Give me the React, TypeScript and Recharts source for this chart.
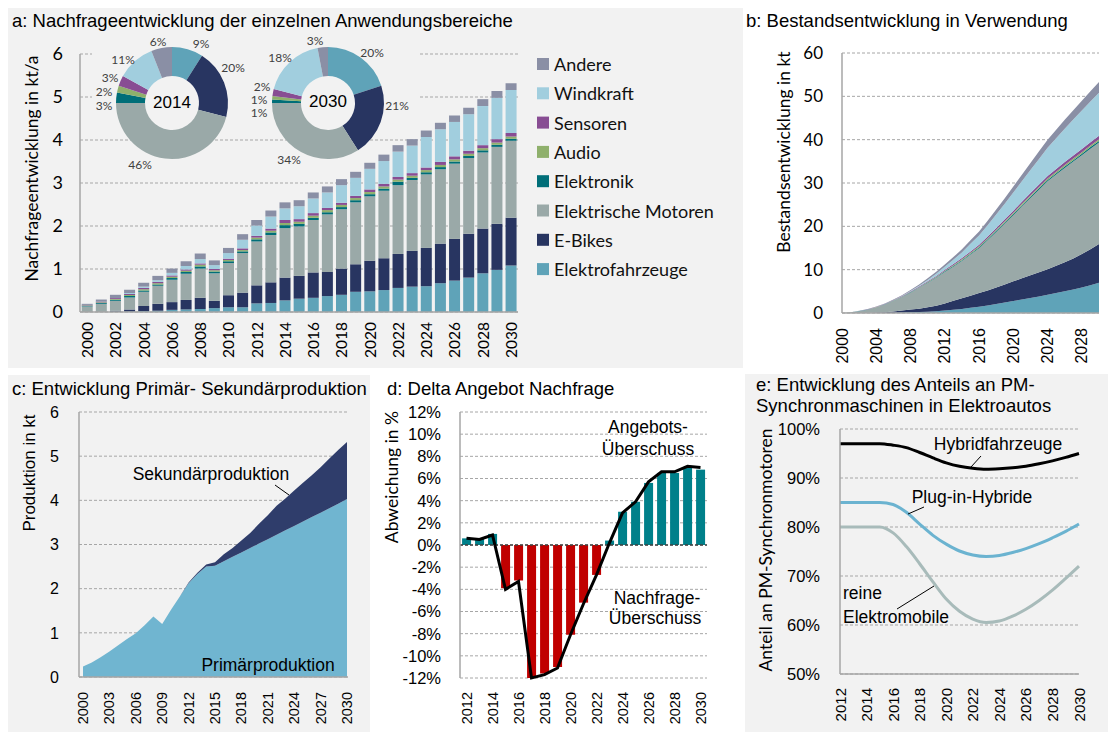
import React from 'react';
import {
  BarChart, Bar, XAxis, YAxis, CartesianGrid, PieChart, Pie, Cell,
  AreaChart, Area, ComposedChart, Line, LineChart, ReferenceLine,
} from 'recharts';

const ARIAL = '"Liberation Sans", Arial, sans-serif';
const CALI = 'Lato, "Open Sans", sans-serif';
const PANEL_BG = '#f2f2f2';
const AXIS = '#a6a6a6';

// ---- a: Nachfrageentwicklung (kt/a), stacked per year
const years = [
  '2000', '2001', '2002', '2003', '2004', '2005', '2006', '2007', '2008', '2009', '2010',
  '2011', '2012', '2013', '2014', '2015', '2016', '2017', '2018', '2019', '2020',
  '2021', '2022', '2023', '2024', '2025', '2026', '2027', '2028', '2029', '2030',
];
const fahrzeuge = [0, 0, 0.01, 0.01, 0.02, 0.03, 0.05, 0.06, 0.07, 0.09, 0.11, 0.11, 0.2, 0.21, 0.27, 0.31, 0.33, 0.37, 0.4, 0.47, 0.48, 0.51, 0.56, 0.59, 0.6, 0.67, 0.73, 0.8, 0.9, 0.98, 1.08];
const bikes = [0, 0, 0.02, 0.05, 0.12, 0.16, 0.18, 0.22, 0.26, 0.17, 0.28, 0.34, 0.42, 0.48, 0.53, 0.53, 0.59, 0.56, 0.61, 0.64, 0.71, 0.74, 0.79, 0.83, 0.89, 0.92, 0.97, 1.02, 1.04, 1.07, 1.11];
const motoren = [0.13, 0.19, 0.23, 0.28, 0.33, 0.42, 0.52, 0.61, 0.68, 0.64, 0.75, 0.92, 1.02, 1.1, 1.15, 1.15, 1.22, 1.34, 1.38, 1.44, 1.5, 1.57, 1.6, 1.65, 1.71, 1.73, 1.75, 1.76, 1.77, 1.79, 1.79];
const elektronik = [0.015, 0.02, 0.025, 0.03, 0.03, 0.03, 0.04, 0.04, 0.05, 0.04, 0.04, 0.04, 0.05, 0.06, 0.07, 0.06, 0.05, 0.05, 0.05, 0.05, 0.05, 0.05, 0.08, 0.05, 0.05, 0.05, 0.05, 0.05, 0.05, 0.05, 0.05];
const audio = [0.01, 0.015, 0.02, 0.025, 0.03, 0.03, 0.03, 0.03, 0.04, 0.03, 0.03, 0.03, 0.04, 0.04, 0.05, 0.05, 0.05, 0.05, 0.05, 0.05, 0.05, 0.05, 0.05, 0.05, 0.05, 0.05, 0.05, 0.05, 0.05, 0.05, 0.05];
const sensoren = [0.01, 0.015, 0.02, 0.025, 0.03, 0.03, 0.03, 0.03, 0.03, 0.03, 0.03, 0.04, 0.04, 0.05, 0.07, 0.06, 0.06, 0.05, 0.05, 0.05, 0.06, 0.06, 0.06, 0.06, 0.06, 0.07, 0.07, 0.07, 0.07, 0.08, 0.08];
const wind = [0, 0, 0, 0.02, 0.03, 0.04, 0.06, 0.08, 0.1, 0.09, 0.13, 0.2, 0.24, 0.28, 0.27, 0.3, 0.34, 0.36, 0.41, 0.42, 0.48, 0.53, 0.59, 0.64, 0.71, 0.76, 0.8, 0.85, 0.91, 0.96, 1.0];
const andere = [0.025, 0.05, 0.075, 0.08, 0.09, 0.1, 0.1, 0.11, 0.13, 0.11, 0.12, 0.13, 0.13, 0.14, 0.14, 0.14, 0.14, 0.14, 0.14, 0.14, 0.14, 0.15, 0.15, 0.15, 0.15, 0.15, 0.15, 0.15, 0.16, 0.16, 0.16];

// donut shares in %
const share2014 = [9, 20, 46, 3, 2, 3, 11, 6];
const share2030 = [20, 21, 34, 1, 1, 2, 18, 3];
const labelOffset2014 = [[29, -60], [61, -36], [-32, 61], [-68, 2], [-68, -12], [-62, -26], [-49, -44], [-14, -62]];
const labelOffset2030 = [[44, -51], [69, 2], [-39, 56], [-69, 9], [-69, -4], [-66, -17], [-48, -46], [-13, -63]];

// ---- b: Bestand in kt
const stockFahrzeuge = [0, 0, 0, 0, 0.02, 0.05, 0.08, 0.12, 0.17, 0.23, 0.3, 0.4, 0.55, 0.75, 0.95, 1.2, 1.45, 1.75, 2.05, 2.4, 2.75, 3.1, 3.45, 3.8, 4.2, 4.6, 5.0, 5.45, 5.9, 6.4, 7.0];
const stockBikes = [0, 0, 0, 0.02, 0.08, 0.15, 0.27, 0.43, 0.63, 0.77, 1.0, 1.3, 1.65, 2.05, 2.45, 2.8, 3.15, 3.45, 3.85, 4.2, 4.55, 4.9, 5.25, 5.6, 5.9, 6.3, 6.7, 7.15, 7.7, 8.3, 8.9];
const stockMotoren = [0, 0.17, 0.42, 0.75, 1.21, 1.75, 2.4, 3.08, 3.89, 4.8, 5.64, 6.42, 7.27, 7.89, 8.61, 9.48, 10.37, 11.59, 12.82, 14.04, 15.26, 16.61, 17.84, 19.07, 20.3, 21.05, 21.79, 22.34, 22.79, 23.23, 23.45];
const stockElektronik = [0, 0.01, 0.02, 0.03, 0.04, 0.05, 0.06, 0.07, 0.08, 0.09, 0.11, 0.13, 0.15, 0.17, 0.19, 0.21, 0.22, 0.23, 0.24, 0.25, 0.26, 0.27, 0.28, 0.29, 0.3, 0.31, 0.32, 0.33, 0.34, 0.35, 0.35];
const stockAudio = [0, 0, 0.01, 0.02, 0.03, 0.04, 0.05, 0.06, 0.07, 0.08, 0.1, 0.12, 0.14, 0.16, 0.18, 0.2, 0.22, 0.24, 0.26, 0.28, 0.3, 0.31, 0.32, 0.33, 0.34, 0.35, 0.36, 0.37, 0.38, 0.39, 0.4];
const stockSensoren = [0, 0.01, 0.02, 0.03, 0.04, 0.05, 0.07, 0.09, 0.11, 0.13, 0.16, 0.19, 0.22, 0.26, 0.3, 0.33, 0.36, 0.39, 0.42, 0.45, 0.48, 0.51, 0.54, 0.57, 0.6, 0.63, 0.66, 0.69, 0.72, 0.75, 0.8];
const stockWind = [0, 0, 0, 0, 0, 0, 0.02, 0.05, 0.1, 0.2, 0.32, 0.5, 0.7, 1.0, 1.3, 1.75, 2.1, 2.6, 3.1, 3.6, 4.2, 4.7, 5.3, 5.9, 6.5, 7.1, 7.7, 8.3, 8.9, 9.4, 9.9];
const stockAndere = [0, 0.01, 0.03, 0.05, 0.08, 0.11, 0.15, 0.2, 0.25, 0.3, 0.37, 0.44, 0.52, 0.62, 0.72, 0.83, 0.93, 1.05, 1.16, 1.28, 1.4, 1.5, 1.62, 1.74, 1.86, 1.96, 2.07, 2.17, 2.27, 2.38, 2.5];

// ---- c: Primär- / Sekundärproduktion in kt
const primaer = [0.24, 0.33, 0.45, 0.58, 0.72, 0.86, 0.99, 1.17, 1.37, 1.2, 1.52, 1.82, 2.12, 2.33, 2.5, 2.52, 2.62, 2.72, 2.82, 2.92, 3.02, 3.12, 3.22, 3.32, 3.42, 3.52, 3.62, 3.72, 3.82, 3.92, 4.03];
const sekundaer = [0, 0, 0, 0, 0, 0, 0, 0, 0, 0, 0, 0, 0.02, 0.03, 0.05, 0.08, 0.16, 0.2, 0.27, 0.34, 0.45, 0.54, 0.66, 0.72, 0.8, 0.88, 0.95, 1.03, 1.13, 1.22, 1.29];

// ---- d: Delta Angebot / Nachfrage in %
const dYears = ['2012', '2013', '2014', '2015', '2016', '2017', '2018', '2019', '2020', '2021', '2022', '2023', '2024', '2025', '2026', '2027', '2028', '2029', '2030'];
const deltaBars = [0.6, 0.6, 1.0, -3.9, -3.2, -12.0, -11.6, -11.0, -8.1, -5.2, -2.7, 0.4, 3.0, 3.9, 5.6, 6.5, 6.5, 7.0, 6.8];
const deltaLine = [0.6, 0.5, 0.9, -4.0, -3.3, -12.0, -11.7, -11.1, -8.1, -5.3, -2.7, 0.2, 2.9, 3.9, 5.7, 6.6, 6.6, 7.1, 7.0];

// ---- e: Anteil PM-Synchronmotoren in %
const hybrid = [97, 97, 97, 97, 96.7, 96.2, 95.2, 94.1, 93.1, 92.4, 92.0, 91.8, 91.9, 92.1, 92.4, 92.9, 93.5, 94.2, 95.0];
const plugIn = [85, 85, 85, 85, 84.6, 83.0, 80.6, 78.3, 76.5, 75.1, 74.3, 74.0, 74.2, 74.8, 75.6, 76.6, 77.8, 79.1, 80.6];
const reine = [80, 80, 80, 80, 78.8, 76.0, 72.5, 68.8, 65.3, 62.8, 61.2, 60.5, 60.8, 61.8, 63.2, 65.0, 67.1, 69.5, 72.0];

const SERIES = [
  { key: 'fahrzeuge', name: 'Elektrofahrzeuge', color: '#5fa3b8' },
  { key: 'bikes', name: 'E-Bikes', color: '#283561' },
  { key: 'motoren', name: 'Elektrische Motoren', color: '#9aa9a8' },
  { key: 'elektronik', name: 'Elektronik', color: '#006e78' },
  { key: 'audio', name: 'Audio', color: '#8fb06c' },
  { key: 'sensoren', name: 'Sensoren', color: '#884d93' },
  { key: 'wind', name: 'Windkraft', color: '#a1cede' },
  { key: 'andere', name: 'Andere', color: '#8a8fa5' },
];

const demandRows = years.map((year, i) => ({
  year, fahrzeuge: fahrzeuge[i], bikes: bikes[i], motoren: motoren[i], elektronik: elektronik[i],
  audio: audio[i], sensoren: sensoren[i], wind: wind[i], andere: andere[i],
}));
const stockRows = years.map((year, i) => ({
  year, fahrzeuge: stockFahrzeuge[i], bikes: stockBikes[i], motoren: stockMotoren[i], elektronik: stockElektronik[i],
  audio: stockAudio[i], sensoren: stockSensoren[i], wind: stockWind[i], andere: stockAndere[i],
}));
const prodRows = years.map((year, i) => ({ year, primaer: primaer[i], sekundaer: sekundaer[i] }));
const deltaRows = dYears.map((year, i) => ({ year, bar: deltaBars[i], line: deltaLine[i] }));
const shareRows = dYears.map((year, i) => ({ year, hybrid: hybrid[i], plugIn: plugIn[i], reine: reine[i] }));

function VTick(props: any) {
  const { x, y, payload, fs, ff } = props;
  return (
    <text x={x} y={y} transform={`rotate(-90 ${x} ${y})`} textAnchor="end" dominantBaseline="central"
      fontSize={fs} fontFamily={ff} fill="#000">
      {payload.value}
    </text>
  );
}

function Box({ left, top, children }: { left: number; top: number; children: React.ReactNode }) {
  return <div style={{ position: 'absolute', left, top }}>{children}</div>;
}

function Donut({ shares, offsets }: { shares: number[]; offsets: number[][] }) {
  const rows = SERIES.map((s, i) => ({ name: s.name, value: shares[i] }));
  return (
    <PieChart width={200} height={200} margin={{ top: 0, right: 0, bottom: 0, left: 0 }}>
      <Pie data={rows} dataKey="value" cx={100} cy={100} innerRadius={27} outerRadius={56}
        startAngle={90} endAngle={-270} stroke="none" isAnimationActive={false} labelLine={false}
        label={(p: any) => (
          <text x={p.cx + offsets[p.index][0]} y={p.cy + offsets[p.index][1]} textAnchor="middle"
            dominantBaseline="central" fontSize={12} fontFamily={CALI} fill="#404040">
            {`${p.value}%`}
          </text>
        )}>
        {rows.map((r, i) => <Cell key={r.name} fill={SERIES[i].color} />)}
      </Pie>
    </PieChart>
  );
}

export default function App() {
  const legendRows = [...SERIES].reverse();
  return (
    <div style={{ position: 'absolute', left: 0, top: 0, width: 1110, height: 732, background: '#fff', overflow: 'hidden' }}>
      <div style={{ position: 'absolute', left: 8, top: 8, width: 735, height: 360, background: PANEL_BG }} />
      <div style={{ position: 'absolute', left: 8, top: 375, width: 362, height: 357, background: PANEL_BG }} />
      <div style={{ position: 'absolute', left: 745, top: 374, width: 363, height: 358, background: PANEL_BG }} />

      {/* a */}
      <Box left={0} top={0}>
        <BarChart width={530} height={370} data={demandRows} margin={{ top: 54, right: 12, left: 0, bottom: 0 }} barCategoryGap="12%">
          <CartesianGrid vertical={false} stroke={AXIS} strokeDasharray="3 2" />
          <XAxis dataKey="year" interval={1} height={58} axisLine={{ stroke: AXIS, strokeWidth: 1.5 }} tickLine={false}
            tickMargin={4} tick={(p: any) => <VTick {...p} fs={15.5} ff={CALI} />} />
          <YAxis width={80} domain={[0, 6]} ticks={[0, 1, 2, 3, 4, 5, 6]} interval={0} axisLine={{ stroke: AXIS, strokeWidth: 1.5 }}
            tickLine={false} tickMargin={11} tick={{ fontSize: 18, fontFamily: CALI, fill: '#000' }} />
          {SERIES.map((s) => (
            <Bar key={s.key} dataKey={s.key} stackId="a" fill={s.color} isAnimationActive={false} />
          ))}
        </BarChart>
      </Box>
      <div style={{ position: 'absolute', left: 92, top: 30, width: 326, height: 95, background: PANEL_BG }} />
      <Box left={72} top={2.5}><Donut shares={share2014} offsets={labelOffset2014} /></Box>
      <Box left={228} top={2.5}><Donut shares={share2030} offsets={labelOffset2030} /></Box>

      {/* b */}
      <Box left={760} top={0}>
        <AreaChart width={350} height={370} data={stockRows} margin={{ top: 53, right: 11, left: 0, bottom: 0 }}>
          <CartesianGrid vertical={false} stroke={AXIS} strokeDasharray="3 2" />
          <XAxis dataKey="year" interval={3} height={57} axisLine={{ stroke: AXIS, strokeWidth: 1.5 }} tickLine={false}
            tickMargin={9} tick={(p: any) => <VTick {...p} fs={16} ff={ARIAL} />} />
          <YAxis width={82} domain={[0, 60]} ticks={[0, 10, 20, 30, 40, 50, 60]} interval={0} axisLine={{ stroke: AXIS, strokeWidth: 1.5 }}
            tickLine={false} tickMargin={13} tick={{ fontSize: 17, fontFamily: CALI, fill: '#000' }} />
          {SERIES.map((s) => (
            <Area key={s.key} type="linear" dataKey={s.key} stackId="b" stroke="none" fill={s.color} fillOpacity={1} isAnimationActive={false} />
          ))}
        </AreaChart>
      </Box>

      {/* c */}
      <Box left={0} top={370}>
        <AreaChart width={370} height={362} data={prodRows} margin={{ top: 42, right: 22, left: 0, bottom: 0 }}>
          <CartesianGrid vertical={false} stroke={AXIS} strokeDasharray="3 2" />
          <XAxis dataKey="year" interval={2} height={55} padding={{ left: 4, right: 1 }} axisLine={{ stroke: AXIS, strokeWidth: 1.5 }}
            tickLine={false} tickMargin={9} tick={(p: any) => <VTick {...p} fs={14.5} ff={ARIAL} />} />
          <YAxis width={79} domain={[0, 6]} ticks={[0, 1, 2, 3, 4, 5, 6]} interval={0} axisLine={{ stroke: AXIS, strokeWidth: 1.5 }}
            tickLine={false} tickMargin={14} tick={{ fontSize: 16, fontFamily: ARIAL, fill: '#000' }} />
          <Area type="linear" dataKey="primaer" stackId="c" stroke="none" fill="#70b5d0" fillOpacity={1} isAnimationActive={false} />
          <Area type="linear" dataKey="sekundaer" stackId="c" stroke="none" fill="#2f3d6b" fillOpacity={1} isAnimationActive={false} />
        </AreaChart>
      </Box>

      {/* d */}
      <Box left={370} top={370}>
        <ComposedChart width={370} height={362} data={deltaRows} margin={{ top: 42, right: 33, left: 0, bottom: 0 }} barCategoryGap="16%">
          <CartesianGrid vertical={false} stroke={AXIS} strokeDasharray="3 2" />
          <XAxis dataKey="year" interval={1} height={54} axisLine={false} tickLine={false}
            tickMargin={8} tick={(p: any) => <VTick {...p} fs={14.5} ff={ARIAL} />} />
          <YAxis width={90} domain={[-12, 12]} ticks={[-12, -10, -8, -6, -4, -2, 0, 2, 4, 6, 8, 10, 12]} interval={0}
            tickFormatter={(v: number) => `${v}%`} axisLine={{ stroke: AXIS, strokeWidth: 1.5 }}
            tickLine={false} tickMargin={13} tick={{ fontSize: 16.5, fontFamily: ARIAL, fill: '#000' }} />
          <ReferenceLine y={0} stroke="#404040" strokeDasharray="3 2" strokeWidth={1.5} />
          <Bar dataKey="bar" isAnimationActive={false}>
            {deltaRows.map((r) => <Cell key={r.year} fill={r.bar >= 0 ? '#00808a' : '#c00000'} />)}
          </Bar>
          <Line type="linear" dataKey="line" stroke="#000" strokeWidth={3} dot={false} isAnimationActive={false} />
        </ComposedChart>
      </Box>

      {/* e */}
      <Box left={740} top={370}>
        <LineChart width={370} height={362} data={shareRows} margin={{ top: 59, right: 31, left: 0, bottom: 0 }}>
          <CartesianGrid vertical={false} stroke={AXIS} strokeDasharray="3 2" />
          <XAxis dataKey="year" interval={1} height={58} axisLine={{ stroke: AXIS, strokeWidth: 1.5 }} tickLine={false}
            tickMargin={8} tick={(p: any) => <VTick {...p} fs={15} ff={ARIAL} />} />
          <YAxis width={100} domain={[50, 100]} ticks={[50, 60, 70, 80, 90, 100]} interval={0} tickFormatter={(v: number) => `${v}%`}
            axisLine={{ stroke: AXIS, strokeWidth: 1.5 }} tickLine={false} tickMargin={14}
            tick={{ fontSize: 16.5, fontFamily: ARIAL, fill: '#000' }} />
          <Line type="monotone" dataKey="hybrid" stroke="#000" strokeWidth={3} dot={false} isAnimationActive={false} />
          <Line type="monotone" dataKey="plugIn" stroke="#6bb3d0" strokeWidth={3} dot={false} isAnimationActive={false} />
          <Line type="monotone" dataKey="reine" stroke="#a8bbba" strokeWidth={3} dot={false} isAnimationActive={false} />
        </LineChart>
      </Box>

      {/* titles, axis titles, legend and annotations */}
      <svg width={1110} height={732} style={{ position: 'absolute', left: 0, top: 0, pointerEvents: 'none' }}>
        <g fontFamily={ARIAL} fontSize={18.5} fill="#000" dominantBaseline="central">
          <text x={12} y={20.5}>a: Nachfrageentwicklung der einzelnen Anwendungsbereiche</text>
          <text x={746} y={20.5}>b: Bestandsentwicklung in Verwendung</text>
          <text x={12} y={388}>c: Entwicklung Primär- Sekundärproduktion</text>
          <text x={387} y={388}>d: Delta Angebot Nachfrage</text>
          <text x={756} y={384}>e: Entwicklung des Anteils an PM-</text>
          <text x={756} y={405}>Synchronmaschinen in Elektroautos</text>
        </g>
        <g fontFamily={ARIAL} fontSize={17} fill="#000" textAnchor="middle" dominantBaseline="central">
          <text x={172} y={102}>2014</text>
          <text x={328} y={101}>2030</text>
        </g>
        <g fontFamily={CALI} fontSize={17.5} fill="#000" textAnchor="middle" dominantBaseline="central">
          <text x={31.5} y={168.5} transform="rotate(-90 31.5 168.5)">Nachfrageentwicklung in kt/a</text>
          <text x={783} y={152} transform="rotate(-90 783 152)">Bestandsentwicklung in kt</text>
          <text x={391} y={477} transform="rotate(-90 391 477)">Abweichung in %</text>
          <text x={765} y={550} transform="rotate(-90 765 550)">Anteil an PM-Synchronmotoren</text>
        </g>
        <text x={29} y={473} transform="rotate(-90 29 473)" fontFamily={ARIAL} fontSize={17} textAnchor="middle" dominantBaseline="central">
          Produktion in kt
        </text>
        {legendRows.map((s, i) => (
          <g key={s.key}>
            <rect x={537} y={58 + i * 29.3} width={12} height={12} fill={s.color} />
            <text x={554} y={64 + i * 29.3} fontFamily={CALI} fontSize={18} dominantBaseline="central" fill="#111">{s.name}</text>
          </g>
        ))}
        <g fontFamily={ARIAL} fontSize={17.5} fill="#000" dominantBaseline="central">
          <text x={211} y={474} textAnchor="middle">Sekundärproduktion</text>
          <text x={268} y={665} textAnchor="middle">Primärproduktion</text>
          <text x={648} y={427} textAnchor="middle">Angebots-</text>
          <text x={648} y={449} textAnchor="middle">Überschuss</text>
          <text x={657} y={598} textAnchor="middle">Nachfrage-</text>
          <text x={655} y={618} textAnchor="middle">Überschuss</text>
          <text x={998} y={444} textAnchor="middle">Hybridfahrzeuge</text>
          <text x={972} y={497} textAnchor="middle">Plug-in-Hybride</text>
          <text x={843} y={593}>reine</text>
          <text x={843} y={617}>Elektromobile</text>
        </g>
        <g stroke="#000" strokeWidth={1}>
          <line x1={275} y1={485} x2={289} y2={495} />
          <line x1={981} y1={456} x2={971} y2={467} />
          <line x1={924} y1={507} x2={908} y2={514} />
          <line x1={934} y1={586} x2={897} y2={609} />
        </g>
      </svg>
    </div>
  );
}
